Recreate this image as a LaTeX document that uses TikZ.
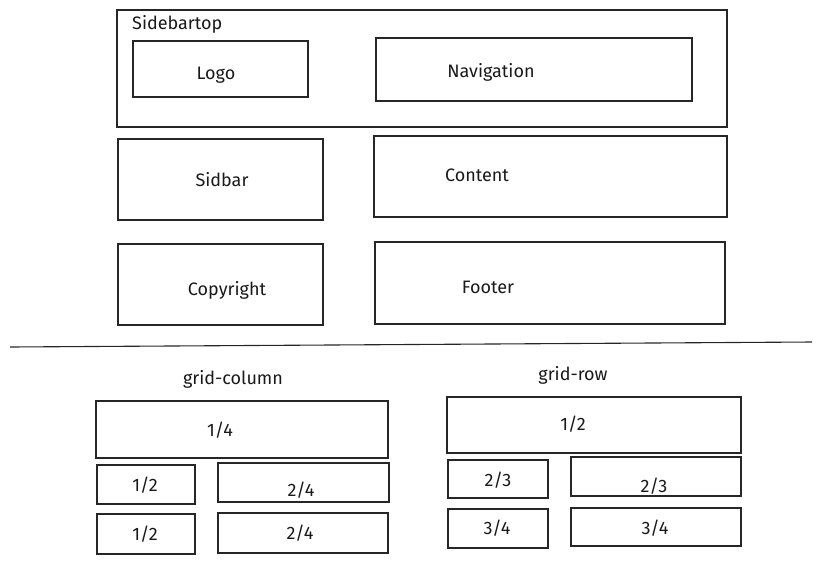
\documentclass[tikz,border=0pt]{standalone}
\usepackage{fontspec}
\setmainfont{Fira Sans}
\usepackage{xcolor}
\usetikzlibrary{positioning}
\begin{document}
\begin{tikzpicture}[font=\fontsize{18}{21}\selectfont,x=1pt,y=-1pt]
\tikzset{frame/.style={draw=black!85,line width=1.1pt,inner sep=0pt},
txt/.style={inner sep=1pt,text=black!90}}
\useasboundingbox (0,0) rectangle (821,563);
% page layout
\node[frame,minimum width=610pt,minimum height=117pt] (top) at (422,68.5) {};
\node[txt,anchor=west] (toplbl) at (131,24) {Sidebartop};
\node[frame,minimum width=175pt,minimum height=56pt] (logo) at (220.5,69) {};
\node[txt] (logotxt) at (216,75) {Logo};
\node[frame,minimum width=316pt,minimum height=63pt] (nav) at (534,69.5) {};
\node[txt] (navtxt) at (491,72) {Navigation};
\node[frame,minimum width=205pt,minimum height=81pt] (side) at (220.5,179.5) {};
\node[txt] (sidetxt) at (222,180) {Sidbar};
\node[frame,minimum width=353pt,minimum height=81pt] (content) at (550.5,176.5) {};
\node[txt] (contenttxt) at (477,175) {Content};
\node[frame,minimum width=205pt,minimum height=81pt] (copy) at (220.5,284.5) {};
\node[txt] (copytxt) at (227,290) {Copyright};
\node[frame,minimum width=350pt,minimum height=82pt] (footer) at (550,283) {};
\node[txt] (footertxt) at (488,287) {Footer};
% divider
\coordinate (divl) at (10,347);
\coordinate (divr) at (812,342);
\draw[draw=black!85,line width=1.1pt] (divl)--(divr);
% grid-column
\node[txt] (collbl) at (233,379) {grid-column};
\node[frame,minimum width=292pt,minimum height=57pt] (cquart) at (242,429.5) {};
\node[txt] at (220,430) {1/4};
\node[frame,minimum width=98pt,minimum height=39pt] (chalfa) at (146,484.5) {};
\node[txt] at (145,485) {1/2};
\node[frame,minimum width=171pt,minimum height=39pt] (cfoura) at (303.5,482.5) {};
\node[txt] at (301,490) {2/4};
\node[frame,minimum width=98pt,minimum height=40pt] (chalfb) at (146,534) {};
\node[txt] at (145,534) {1/2};
\node[frame,minimum width=170pt,minimum height=40pt] (cfourb) at (303,533) {};
\node[txt] at (300,533) {2/4};
% grid-row
\node[txt] (rowlbl) at (573,375) {grid-row};
\node[frame,minimum width=294pt,minimum height=56pt] (rhalf) at (594,425) {};
\node[txt] at (573,424) {1/2};
\node[frame,minimum width=100pt,minimum height=38pt] (rthira) at (498,479) {};
\node[txt] at (498,480) {2/3};
\node[frame,minimum width=170pt,minimum height=39pt] (rthirb) at (656,476.5) {};
\node[txt] at (654,486) {2/3};
\node[frame,minimum width=100pt,minimum height=39pt] (rquara) at (498,528.5) {};
\node[txt] at (497,528) {3/4};
\node[frame,minimum width=170pt,minimum height=38pt] (rquarb) at (656,527) {};
\node[txt] at (655,528) {3/4};
\end{tikzpicture}
\end{document}
